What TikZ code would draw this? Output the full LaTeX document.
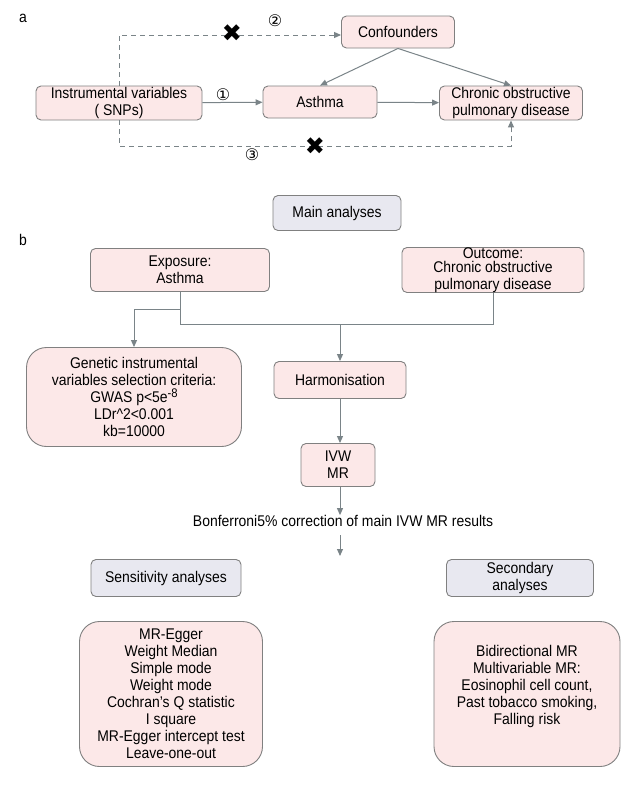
\documentclass[tikz,border=0pt]{standalone}
\usepackage{fontspec}
\setmainfont{Liberation Sans}[FakeStretch=0.9]
\newfontfamily\symfont{DejaVu Sans}
\usetikzlibrary{arrows.meta}
\definecolor{boxline}{RGB}{128,128,128}
\definecolor{pinkfill}{RGB}{252,232,232}
\definecolor{bluefill}{RGB}{232,232,240}
\definecolor{arrcol}{RGB}{122,132,136}
\tikzset{
 box/.style={draw=boxline, fill=pinkfill, rounded corners=5pt, line width=0.9pt, align=center, inner sep=0pt, font=\fontsize{15.5}{17}\selectfont},
 bigbox/.style={box, rounded corners=20pt},
 bluebox/.style={box, fill=bluefill},
 arr/.style={draw=arrcol, line width=1pt, -{Triangle[length=7pt,width=6pt]}},
 plainline/.style={draw=arrcol, line width=1pt},
 dashline/.style={draw=arrcol, line width=1pt, dash pattern=on 5pt off 4pt, -{Triangle[length=7pt,width=6pt]}},
 txt/.style={font=\fontsize{15.5}{17}\selectfont, inner sep=0pt},
 num/.style={font=\symfont\fontsize{16}{16}\selectfont, inner sep=0pt},
 cross/.style={font=\symfont\fontsize{24}{24}\selectfont, inner sep=0pt},
}
\begin{document}
\begin{tikzpicture}[x=1pt,y=-1pt]
\useasboundingbox (0,0) rectangle (637,788);
\fill[white] (0,0) rectangle (637,788);
% ---------- part a ----------
\node[txt] (la) at (23,18) {a};
\node[box, minimum width=113pt, minimum height=32pt] (conf) at (398,32) {Confounders};
\node[box, minimum width=166pt, minimum height=34pt] (iv) at (119,103) {Instrumental variables\\( SNPs)};
\node[box, minimum width=114pt, minimum height=32pt] (asthma) at (320,102) {Asthma};
\node[box, minimum width=143pt, minimum height=34pt] (copd) at (511,103) {Chronic obstructive\\pulmonary disease};

\draw[arr] (iv) -- (asthma);
\draw[arr] (asthma) -- (copd);
\draw[arr] (conf.south) -- (asthma.north);
\draw[arr] (conf.south) -- (copd.north);
\draw[dashline] (iv.north) |- ([yshift=-3pt]conf.west);
\draw[dashline] (iv.south) -- ++(0,26) -| (copd.south);

\node[num] (n1) at (223,95) {①};
\node[num] (n2) at (275,21) {②};
\node[num] (n3) at (252,155) {③};
\node[cross] (x1) at (232,33) {✖};
\node[cross] (x2) at (315,146) {✖};

% ---------- part b ----------
\node[bluebox, minimum width=128pt, minimum height=35pt] (main) at (337,213) {Main analyses};
\node[txt] (lb) at (23,240) {b};
\node[box, minimum width=179pt, minimum height=43pt] (expo) at (180,270) {Exposure:\\Asthma};
\node[box, minimum width=182pt, minimum height=43pt] (outc) at (493,270) {Outcome:\\[-3pt]Chronic obstructive\\pulmonary disease};
\node[bigbox, minimum width=215pt, minimum height=99pt] (gen) at (134,397) {Genetic instrumental\\variables selection criteria:\\GWAS p<5e\raisebox{5pt}{\fontsize{12.5}{12.5}\selectfont -8}\\LDr\textasciicircum 2<0.001\\kb=10000};
\node[box, minimum width=132pt, minimum height=37pt] (harm) at (340,380) {Harmonisation};
\node[box, minimum width=74pt, minimum height=43pt] (ivw) at (338,465) {IVW\\MR};
\node[txt] (bonf) at (343,521) {Bonferroni5\% correction of main IVW MR results};
\node[bluebox, minimum width=150pt, minimum height=37pt] (sens) at (166,578) {Sensitivity analyses};
\node[bluebox, minimum width=147pt, minimum height=37pt] (sec) at (520,578) {Secondary\\analyses};
\node[bigbox, minimum width=183pt, minimum height=145pt] (sensl) at (171,694) {MR-Egger\\Weight Median\\Simple mode\\Weight mode\\Cochran's Q statistic\\I square\\MR-Egger intercept test\\Leave-one-out};
\node[bigbox, minimum width=186pt, minimum height=145pt] (secl) at (527,694) {Bidirectional MR\\Multivariable MR:\\Eosinophil cell count,\\Past tobacco smoking,\\Falling risk\\[1pt]~};

\coordinate (jl) at (180,324);
\coordinate (jr) at (493,324);
\coordinate (jm) at (340,324);
\coordinate (jg) at (180,309);
\coordinate (fs) at (340,535);
\coordinate (fe) at (340,556);
\draw[plainline] (expo.south) -- (jl) -- (jr) -- (outc.south);
\draw[arr] (jg) -| (gen.north);
\draw[arr] (jm) -- (harm.north);
\draw[arr] (harm.south) -- (harm.south |- ivw.north);
\draw[arr] (harm.south |- ivw.south) -- (harm.south |- bonf.north);
\draw[arr] (fs) -- (fe);
\end{tikzpicture}
\end{document}
